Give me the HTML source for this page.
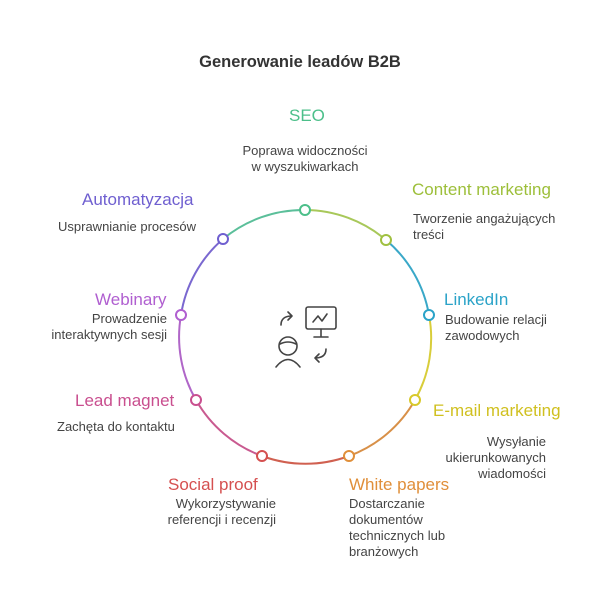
<!DOCTYPE html>
<html><head><meta charset="utf-8"><style>
body{margin:0;width:600px;height:600px;background:#fff;font-family:"Liberation Sans",sans-serif;position:relative;overflow:hidden}
.t{position:absolute;font-size:17px;white-space:nowrap}
.d{position:absolute;font-size:13px;color:#444;line-height:16px;white-space:nowrap}
</style></head><body>
<div class="t" style="left:0;width:600px;text-align:center;top:53px;font-weight:bold;color:#333;font-size:16.5px">Generowanie leadów B2B</div>
<svg width="600" height="600" style="position:absolute;left:0;top:0" fill="none" stroke-width="2">
<path d="M223,239 A126,126 0 0 1 305,210" stroke="#5bbf9a"/>
<path d="M305,210 A126,126 0 0 1 386,240" stroke="#a8c85a"/>
<path d="M386,240 A126,126 0 0 1 429,315" stroke="#3aa8c8"/>
<path d="M429,315 A126,126 0 0 1 415,400" stroke="#d8cd3a"/>
<path d="M415,400 A126,126 0 0 1 349,456" stroke="#d89048"/>
<path d="M349,456 A126,126 0 0 1 262,456" stroke="#d06050"/>
<path d="M262,456 A126,126 0 0 1 196,400" stroke="#c95a90"/>
<path d="M196,400 A126,126 0 0 1 181,315" stroke="#b066c8"/>
<path d="M181,315 A126,126 0 0 1 223,239" stroke="#7a68d0"/>
<g fill="#fff" stroke-width="2">
<circle cx="305" cy="210" r="5" stroke="#4cbf8a"/>
<circle cx="386" cy="240" r="5" stroke="#a0c040"/>
<circle cx="429" cy="315" r="5" stroke="#2ba3c8"/>
<circle cx="415" cy="400" r="5" stroke="#d8c92a"/>
<circle cx="349" cy="456" r="5" stroke="#e08f3a"/>
<circle cx="262" cy="456" r="5" stroke="#d55050"/>
<circle cx="196" cy="400" r="5" stroke="#c94f8f"/>
<circle cx="181" cy="315" r="5" stroke="#b05fd0"/>
<circle cx="223" cy="239" r="5" stroke="#6f5fd0"/>
</g>
<g stroke="#444" stroke-width="1.6" stroke-linecap="round" stroke-linejoin="round">
<rect x="306" y="307" width="30" height="22" rx="2"/>
<path d="M321,329 v8 M314,337 h14"/>
<path d="M313,322 l5,-6 l4,5 l5,-7"/>
<path d="M281,325 q0,-9 11,-9 M288,312 l4,4 l-4,4"/>
<circle cx="288" cy="346" r="9"/>
<path d="M280,344 q8,-4 16,0"/>
<path d="M276,367 q12,-15 24,0"/>
<path d="M326,349 q0,9 -11,9 M319,354 l-4,4 l4,4"/>
</g>
</svg>
<div class="t" style="left:289px;top:106px;color:#4cbf8a">SEO</div>
<div class="d" style="left:205px;width:200px;text-align:center;top:143px">Poprawa widoczności<br>w wyszukiwarkach</div>
<div class="t" style="left:412px;top:180px;color:#9dbf3a">Content marketing</div>
<div class="d" style="left:413px;top:211px">Tworzenie angażujących<br>treści</div>
<div class="t" style="left:444px;top:290px;color:#2ba3c8">LinkedIn</div>
<div class="d" style="left:445px;top:312px">Budowanie relacji<br>zawodowych</div>
<div class="t" style="left:433px;top:401px;color:#d0c020">E-mail marketing</div>
<div class="d" style="left:400px;width:146px;text-align:right;top:434px">Wysyłanie<br>ukierunkowanych<br>wiadomości</div>
<div class="t" style="left:349px;top:475px;color:#e08f3a">White papers</div>
<div class="d" style="left:349px;top:496px">Dostarczanie<br>dokumentów<br>technicznych lub<br>branżowych</div>
<div class="t" style="left:168px;top:475px;color:#d55050">Social proof</div>
<div class="d" style="left:96px;width:180px;text-align:right;top:496px">Wykorzystywanie<br>referencji i recenzji</div>
<div class="t" style="left:75px;top:391px;color:#c94f8f">Lead magnet</div>
<div class="d" style="left:57px;top:419px">Zachęta do kontaktu</div>
<div class="t" style="left:95px;top:290px;color:#b05fd0">Webinary</div>
<div class="d" style="left:16px;width:151px;text-align:right;top:311px">Prowadzenie<br>interaktywnych sesji</div>
<div class="t" style="left:82px;top:190px;color:#6f5fd0">Automatyzacja</div>
<div class="d" style="left:58px;top:219px">Usprawnianie procesów</div>
</body></html>
